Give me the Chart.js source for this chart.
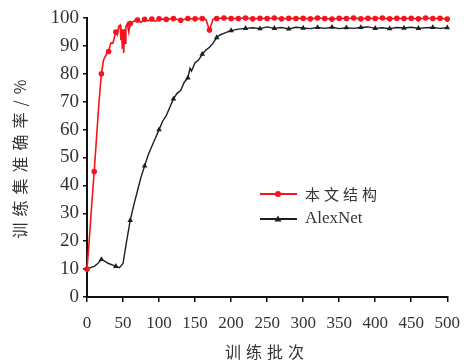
<!DOCTYPE html>
<html>
<head>
<meta charset="utf-8">
<script src="https://cdn.jsdelivr.net/npm/chart.js@4"></script>
<style>
  html, body { margin: 0; padding: 0; background: #fff; }
  #wrap { width: 471px; height: 364px; }
</style>
</head>
<body>
<div id="wrap"><canvas id="grafico" width="471" height="364"></canvas></div>
<script>
// dados
const seriesNames = ['本文结构', 'AlexNet'];
const xTitle = '训练批次';
const yTitle = '训练集准确率/%';

const epochsRed = [0, 3, 6, 10, 14, 17, 20, 23, 27, 30, 33, 36, 38, 40, 42, 44, 46, 47, 48, 49, 50, 51, 52, 53, 54, 56, 58, 60, 63, 66, 70, 75, 80, 85, 90, 95, 100, 110, 120, 130, 140, 150, 160, 165, 170, 175, 180, 190, 200, 210, 220, 230, 240, 250, 260, 270, 280, 290, 300, 310, 320, 330, 340, 350, 360, 370, 380, 390, 400, 410, 420, 430, 440, 450, 460, 470, 480, 490, 500];
const accRed = [10, 20, 31, 45, 60, 71, 80, 85, 87, 88, 91, 91, 93, 95, 94, 97, 97.5, 92, 96, 89, 95, 87.5, 96, 91, 97, 98, 95, 98, 98.5, 99, 99.3, 98.5, 99.5, 99, 99.6, 98.8, 99.7, 99.5, 99.8, 99.2, 99.8, 99.7, 99.8, 99.5, 95.7, 99.6, 99.8, 100, 99.8, 99.8, 100, 99.7, 99.9, 99.8, 100, 99.7, 99.9, 99.8, 99.9, 99.7, 100, 99.8, 99.6, 99.9, 99.8, 100, 99.7, 99.9, 99.8, 100, 99.7, 99.9, 99.8, 99.9, 99.7, 100, 99.8, 99.9, 99.6];

const epochsAlex = [0, 5, 10, 15, 20, 25, 30, 35, 40, 45, 50, 55, 60, 65, 70, 75, 80, 85, 90, 95, 100, 105, 110, 115, 120, 125, 130, 135, 140, 143, 145, 150, 155, 160, 165, 170, 175, 180, 185, 190, 195, 200, 210, 220, 230, 240, 250, 260, 270, 280, 290, 300, 310, 320, 330, 340, 350, 360, 370, 380, 390, 400, 410, 420, 430, 440, 450, 460, 470, 480, 490, 500];
const accAlex = [10, 10.5, 11, 12, 13.5, 12.8, 12, 11.5, 11, 10.5, 12, 20, 27.5, 33, 38, 43, 47, 51, 54, 57, 60, 63, 65, 68, 71, 73, 74, 77, 78.5, 82, 81, 84, 85, 87, 88.5, 89.5, 91, 93, 94, 94.5, 95, 95.5, 96, 96.3, 96.5, 96.2, 96.8, 96.3, 96.6, 96.1, 96.7, 96.4, 96.2, 96.6, 96.3, 96.7, 96.2, 96.5, 96.3, 96.6, 96.8, 96.3, 96.5, 96.2, 96.6, 96.4, 96.7, 96.3, 96.5, 96.6, 96.3, 96.5];

const serif = '"Liberation Serif", "DejaVu Serif", serif';
const cjk = '"Noto Sans CJK SC", sans-serif';

// títulos e legenda desenhados à mão (espaçamento largo entre os caracteres)
const textosPlugin = {
    id: 'textos',
    afterDraw(chart) {
        const ctx = chart.ctx;
        ctx.save();
        ctx.fillStyle = '#333';
        ctx.textBaseline = 'middle';
        ctx.textAlign = 'center';
        ctx.letterSpacing = '6px';
        ctx.font = '16px ' + cjk;
        ctx.translate(20, 156);
        ctx.rotate(-Math.PI / 2);
        ctx.fillText(yTitle, 0, 0);
        ctx.restore();

        ctx.save();
        ctx.fillStyle = '#333';
        ctx.textBaseline = 'middle';
        ctx.textAlign = 'center';
        ctx.letterSpacing = '5px';
        ctx.font = '16px ' + cjk;
        ctx.fillText(xTitle, 267, 352);
        ctx.restore();

        // legenda
        const itens = chart.data.datasets;
        itens.forEach((ds, i) => {
            const y = 194 + i * 25;
            ctx.save();
            ctx.strokeStyle = ds.borderColor;
            ctx.fillStyle = ds.borderColor;
            ctx.lineWidth = 2;
            ctx.beginPath();
            ctx.moveTo(260, y);
            ctx.lineTo(297, y);
            ctx.stroke();
            ctx.beginPath();
            if (ds.pointStyle === 'triangle') {
                ctx.moveTo(278, y - 3.5);
                ctx.lineTo(281.5, y + 2.5);
                ctx.lineTo(274.5, y + 2.5);
                ctx.closePath();
            } else {
                ctx.arc(278, y, 3, 0, Math.PI * 2);
            }
            ctx.fill();
            ctx.fillStyle = '#333';
            ctx.textBaseline = 'middle';
            ctx.textAlign = 'left';
            if (i === 0) {
                ctx.letterSpacing = '4px';
                ctx.font = '15px ' + cjk;
            } else {
                ctx.font = '17px ' + serif;
            }
            ctx.fillText(ds.label, 305, y);
            ctx.restore();
        });
    }
};

function montarPontos(xs, ys) {
    return xs.map((x, i) => ({ x: x, y: ys[i] }));
}

const ctx = document.getElementById('grafico').getContext('2d');
new Chart(ctx, {
    type: 'line',
    data: {
        datasets: [{
            label: seriesNames[0],
            data: montarPontos(epochsRed, accRed),
            borderColor: '#f5141e',
            backgroundColor: '#f5141e',
            borderWidth: 1.6,
            pointStyle: 'circle',
            pointRadius: c => (c.raw && c.raw.x % 10 === 0 ? 2.8 : 0),
            pointBorderWidth: 0,
            clip: false,
            tension: 0
        }, {
            label: seriesNames[1],
            data: montarPontos(epochsAlex, accAlex),
            borderColor: '#1e1e1e',
            backgroundColor: '#1e1e1e',
            borderWidth: 1.4,
            pointStyle: 'triangle',
            pointRadius: c => (c.raw && c.raw.x % 20 === 0 ? 3.2 : 0),
            pointBorderWidth: 0,
            clip: false,
            tension: 0
        }]
    },
    options: {
        responsive: false,
        animation: false,
        layout: { padding: { left: 0, top: 18, right: 23, bottom: 0 } },
        plugins: {
            legend: { display: false },
            tooltip: { enabled: false }
        },
        scales: {
            x: {
                type: 'linear',
                min: 0,
                max: 500,
                ticks: {
                    stepSize: 50,
                    padding: 11,
                    color: '#333',
                    font: { family: serif, size: 17 },
                    maxRotation: 0
                },
                grid: { drawOnChartArea: false, color: '#111', tickLength: 5, lineWidth: 1.5 },
                border: { color: '#111', width: 2 },
                afterFit: s => { s.height = 67; }
            },
            y: {
                min: 0,
                max: 100,
                ticks: {
                    stepSize: 10,
                    padding: 4,
                    color: '#333',
                    font: { family: serif, size: 19 }
                },
                grid: { drawOnChartArea: false, color: '#111', tickLength: 4, lineWidth: 1.5 },
                border: { color: '#111', width: 2 },
                afterFit: s => { s.width = 87; }
            }
        }
    },
    plugins: [textosPlugin]
});
</script>
</body>
</html>
